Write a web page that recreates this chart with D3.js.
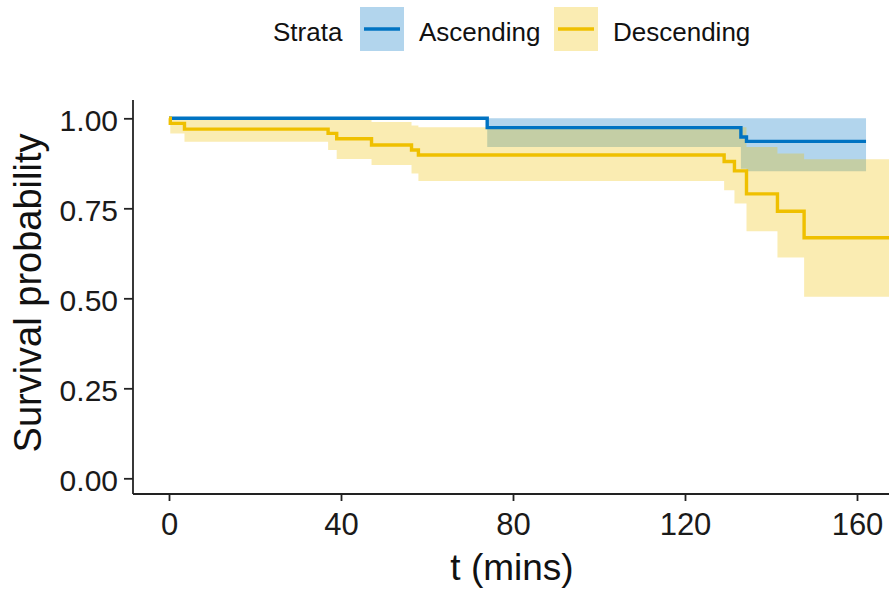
<!DOCTYPE html>
<html>
<head>
<meta charset="utf-8">
<script src="https://cdn.jsdelivr.net/npm/d3@7"></script>
<style>
  body { margin: 0; background: #fff; }
  svg { display: block; font-family: "Liberation Sans", Arial, sans-serif; }
</style>
</head>
<body>
<script>
// Kaplan-Meier steps
const ascTime  = [0, 74.0, 133.0, 134.3, 162.1]
const ascSurv  = [1, 0.974, 0.948, 0.936, 0.936]
const ascUpper = [1, 1, 1, 1, 1]
const ascLower = [1, 0.92, 0.86, 0.853, 0.853]

const descTime  = [0, 0.3, 3.6, 37.0, 39.0, 47.1, 56.4, 58.0, 129.1, 131.5, 134.3, 141.5, 147.7, 170]
const descSurv  = [1, 0.986, 0.970, 0.958, 0.943, 0.926, 0.912, 0.898, 0.880, 0.854, 0.790, 0.742, 0.668, 0.668]
const descUpper = [1, 1, 1, 1, 0.997, 0.99, 0.98, 0.975, 0.975, 0.975, 0.92, 0.902, 0.886, 0.886]
const descLower = [1, 0.958, 0.935, 0.912, 0.887, 0.870, 0.847, 0.826, 0.800, 0.763, 0.686, 0.613, 0.504, 0.504]

const strata = ["Ascending", "Descending"]
const colors = ["#0073C2", "#EFC000"]
const xTicks = [0, 40, 80, 120, 160]
const yTicks = [0, 0.25, 0.5, 0.75, 1]

const W = 889, H = 593

const svg = d3.select("body").append("svg")
    .attr("width", W)
    .attr("height", H)

const x = d3.scaleLinear().domain([0, 160]).range([169, 857])
const y = d3.scaleLinear().domain([0, 1]).range([478.3, 118.3])

const series = [
    ascTime.map((t, i) => ({t: t, s: ascSurv[i], lo: ascLower[i], hi: ascUpper[i]})),
    descTime.map((t, i) => ({t: t, s: descSurv[i], lo: descLower[i], hi: descUpper[i]}))
]

let clip = svg.append("clipPath").attr("id", "plotclip")
clip.append("rect").attr("x", 134).attr("y", 95).attr("width", W).attr("height", 400)

let plot = svg.append("g").attr("clip-path", "url(#plotclip)")

// confidence ribbons
let area = d3.area()
    .curve(d3.curveStepAfter)
    .x(d => x(d.t))
    .y0(d => y(d.lo))
    .y1(d => y(d.hi))

series.forEach((d, i) => {
    plot.append("path")
        .attr("d", area(d))
        .attr("fill", colors[i])
        .attr("fill-opacity", 0.3)
})

// survival curves
let line = d3.line()
    .curve(d3.curveStepAfter)
    .x(d => x(d.t))
    .y(d => y(d.s))

series.forEach((d, i) => {
    plot.append("path")
        .attr("d", line(d))
        .attr("fill", "none")
        .attr("stroke", colors[i])
        .attr("stroke-width", 3.4)
})

// axes
let xAxis = svg.append("g")
    .attr("transform", "translate(0,494)")
    .call(d3.axisBottom(x).tickValues(xTicks).tickSize(7).tickPadding(12).tickFormat(d3.format("d")))
xAxis.select(".domain").attr("d", `M133,0H${W}`).attr("stroke", "#222").attr("stroke-width", 1.8)
xAxis.selectAll(".tick line").attr("stroke", "#222").attr("stroke-width", 1.8)
xAxis.selectAll(".tick text")
    .attr("font-size", 31)
    .attr("fill", "#1a1a1a")
    .attr("font-family", "Liberation Sans, Arial, sans-serif")

let yAxis = svg.append("g")
    .attr("transform", "translate(133,0)")
    .call(d3.axisLeft(y).tickValues(yTicks).tickSize(9).tickPadding(6).tickFormat(d3.format(".2f")))
yAxis.select(".domain").attr("d", "M0,100V494").attr("stroke", "#222").attr("stroke-width", 1.8)
yAxis.selectAll(".tick line").attr("stroke", "#222").attr("stroke-width", 1.8)
yAxis.selectAll(".tick text")
    .attr("font-size", 30)
    .attr("fill", "#1a1a1a")
    .attr("dy", "0.42em")
    .attr("font-family", "Liberation Sans, Arial, sans-serif")

// axis titles
svg.append("text")
    .attr("x", 512)
    .attr("y", 580)
    .attr("text-anchor", "middle")
    .attr("font-size", 37)
    .attr("fill", "#111")
    .text("t (mins)")

svg.append("text")
    .attr("transform", "translate(41,293) rotate(-90)")
    .attr("text-anchor", "middle")
    .attr("font-size", 38)
    .attr("fill", "#111")
    .text("Survival probability")

// legend
let legend = svg.append("g")
legend.append("text")
    .attr("x", 273)
    .attr("y", 41)
    .attr("font-size", 26)
    .attr("fill", "#111")
    .text("Strata")

let keyX = [360, 554]
strata.forEach((name, i) => {
    legend.append("rect")
        .attr("x", keyX[i])
        .attr("y", 7)
        .attr("width", 44)
        .attr("height", 44)
        .attr("fill", colors[i])
        .attr("fill-opacity", 0.3)
    legend.append("line")
        .attr("x1", keyX[i] + 4)
        .attr("x2", keyX[i] + 40)
        .attr("y1", 29)
        .attr("y2", 29)
        .attr("stroke", colors[i])
        .attr("stroke-width", 3.4)
    legend.append("text")
        .attr("x", keyX[i] + 59)
        .attr("y", 41)
        .attr("font-size", 26)
        .attr("fill", "#111")
        .text(name)
})
</script>
</body>
</html>
